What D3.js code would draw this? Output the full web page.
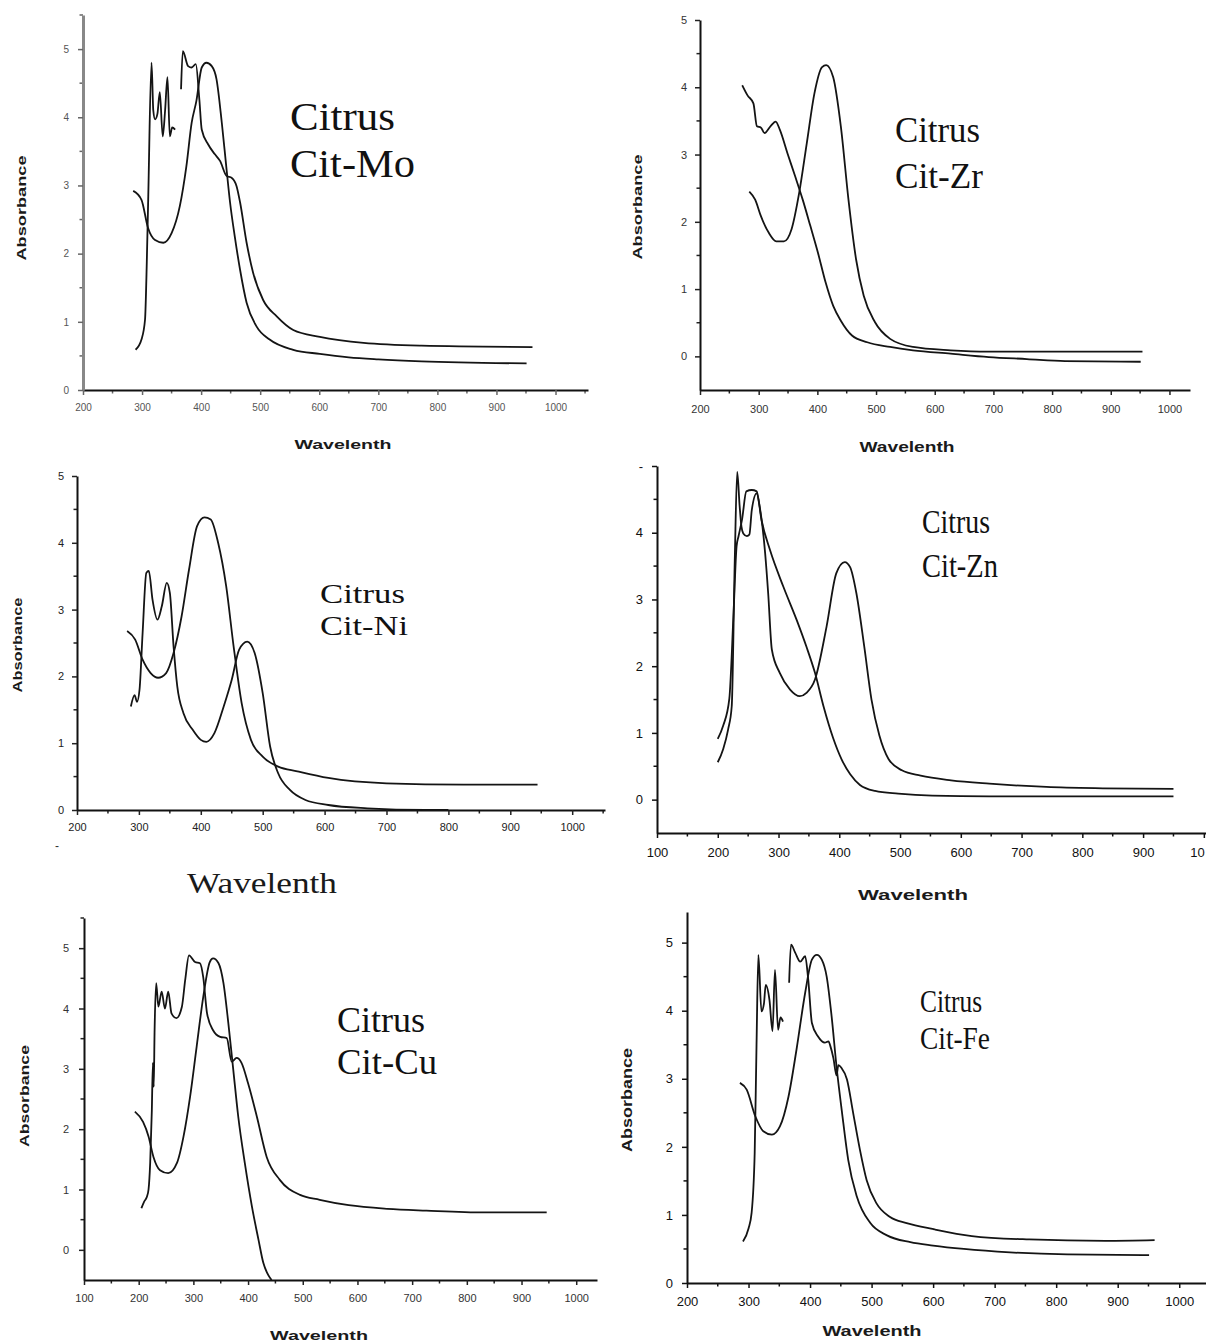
<!DOCTYPE html>
<html><head><meta charset="utf-8">
<script src="https://cdn.jsdelivr.net/npm/d3@7"></script>
<style>
html,body{margin:0;padding:0;background:#fff;}
svg{display:block;}
</style></head><body>
<svg id="chart" width="1206" height="1344"></svg>
<script>
// ---------------- DATA (wavelength nm, absorbance) ----------------
const moNoisy = [[289,0.59],[299,0.74],[305,1.03],[308,1.87],[310.5,2.84],[316,4.8],[319,4.1],[322,3.97],[326,4.05],[330,4.37],[335,3.72],[339,4.1],[343,4.59],[347,3.72],[351,3.85],[356,3.82],[361,null],[366,4.41],[369,4.97],[378,4.75],[384,4.73],[391,4.78],[397,4.26],[401,3.82],[412,3.6],[423,3.46],[432,3.36],[443,3.14],[452,3.11],[460,2.99],[466,2.75],[477,2.16],[488,1.72],[505,1.32],[528,1.08],[556,0.88],[601,0.78],[675,0.69],[773,0.65],[961,0.63]];
const moBroad = [[285,2.92],[299,2.79],[310,2.38],[322,2.2],[336,2.16],[350,2.3],[364,2.7],[375,3.28],[384,3.92],[392,4.24],[401,4.73],[409,4.8],[418,4.75],[426,4.56],[435,3.92],[443,3.24],[449,2.75],[457,2.25],[466,1.76],[477,1.28],[494,0.93],[516,0.74],[556,0.59],[601,0.53],[650,0.48],[700,0.45],[773,0.42],[951,0.39]];

const zrA = [[272,4.03],[281,3.88],[291,3.76],[297,3.42],[304,3.4],[310,3.32],[320,3.42],[329,3.49],[336,3.37],[349,3.02],[362,2.68],[375,2.33],[388,1.94],[401,1.54],[414,1.1],[427,0.75],[440,0.53],[459,0.31],[485,0.21],[524,0.14],[563,0.09],[627,0.04],[692,-0.01],[757,-0.04],[822,-0.07],[951,-0.08]];
const zrB = [[284,2.45],[294,2.33],[304,2.08],[317,1.84],[330,1.71],[343,1.71],[356,1.89],[369,2.43],[382,3.17],[395,3.91],[408,4.3],[415,4.33],[427,4.15],[440,3.42],[453,2.33],[466,1.44],[479,0.9],[498,0.51],[524,0.26],[563,0.14],[627,0.09],[692,0.07],[954,0.07]];

const niA = [[287,1.55],[293,1.72],[297,1.62],[301,1.8],[306,2.65],[312,3.55],[316,3.58],[322,3.15],[330,2.85],[337,3.05],[345,3.4],[350,3.25],[356,2.45],[362,1.85],[372,1.45],[387,1.2],[400,1.05],[409,1.02],[422,1.15],[437,1.55],[450,1.95],[462,2.4],[475,2.52],[487,2.35],[500,1.75],[512,0.95],[525,0.55],[544,0.3],[569,0.15],[606,0.075],[669,0.025],[762,0],[800,0]];
const niB = [[281,2.68],[294,2.55],[306,2.25],[319,2.05],[331,1.98],[344,2.05],[356,2.35],[369,2.9],[381,3.6],[394,4.25],[406,4.38],[416,4.35],[428,4.0],[441,3.35],[453,2.45],[466,1.6],[481,1.05],[500,0.8],[525,0.65],[556,0.58],[606,0.48],[700,0.4],[825,0.38],[944,0.38]];

const znA = [[200,0.56],[209,0.76],[217,1.05],[223,1.4],[228,3.59],[232,4.91],[236,4.4],[239,4.09],[242,3.99],[248,3.95],[252,3.97],[256,4.34],[264,4.59],[269,4.39],[278,3.69],[283,3.09],[289,2.25],[302,1.9],[319,1.65],[335,1.55],[346,1.6],[360,1.8],[379,2.59],[395,3.39],[409,3.56],[418,3.48],[428,3.1],[441,2.3],[453,1.5],[466,0.96],[481,0.61],[503,0.44],[534,0.36],[584,0.29],[647,0.24],[741,0.19],[834,0.17],[950,0.16]];
const znB = [[200,0.91],[209,1.11],[219,1.51],[226,2.8],[231,3.8],[234,3.94],[240,4.2],[247,4.62],[256,4.64],[264,4.62],[272,4.19],[286,3.74],[308,3.19],[330,2.69],[346,2.29],[360,1.9],[374,1.4],[390,0.92],[404,0.6],[418,0.38],[434,0.22],[459,0.13],[497,0.09],[553,0.06],[647,0.05],[950,0.05]];

const cuA = [[205,0.69],[210,0.8],[215,0.88],[218,1.0],[221,1.44],[224,2.3],[226,3.1],[227.5,2.7],[229,3.6],[232,4.42],[236,4.03],[242,4.28],[248,4.0],[254,4.28],[260,3.92],[269,3.84],[279,4.03],[285,4.47],[292,4.88],[303,4.77],[312,4.75],[318,4.52],[325,3.92],[336,3.64],[349,3.53],[361,3.51],[370,3.12],[379,3.18],[388,3.1],[400,2.76],[416,2.21],[434,1.54],[458,1.16],[495,0.91],[531,0.83],[584,0.74],[655,0.68],[726,0.65],[832,0.62],[946,0.62]];
const cuB = [[193,2.29],[208,2.12],[218,1.88],[227,1.54],[239,1.32],[254,1.27],[270,1.44],[282,1.88],[294,2.54],[306,3.37],[318,4.19],[330,4.77],[336,4.83],[346,4.75],[355,4.42],[364,3.75],[373,2.98],[382,2.21],[394,1.44],[407,0.72],[419,0.17],[428,-0.22],[437,-0.42],[443,-0.5]];

const feNoisy = [[291,0.61],[300,0.8],[305,1.03],[310,1.91],[313,3.5],[316,4.82],[321,3.99],[325,4.1],[328,4.38],[334,4.16],[339,3.7],[343,4.6],[348,3.72],[352,3.9],[356,3.84],[361,null],[366,4.41],[369,4.97],[376,4.85],[384,4.72],[392,4.8],[397,4.46],[403,3.82],[413,3.62],[424,3.53],[430,3.55],[433,3.48],[438,3.3],[443,3.05],[446,3.2],[451,3.16],[460,2.99],[470,2.5],[481,1.96],[492,1.51],[508,1.17],[530,0.97],[557,0.88],[601,0.79],[663,0.69],[756,0.64],[880,0.62],[960,0.63]];
const feBroad = [[286,2.94],[297,2.84],[311,2.45],[324,2.23],[338,2.18],[351,2.3],[365,2.74],[378,3.43],[392,4.26],[403,4.75],[411,4.82],[419,4.75],[427,4.5],[435,3.92],[443,3.18],[452,2.5],[462,1.81],[476,1.27],[498,0.88],[525,0.7],[563,0.6],[600,0.55],[650,0.5],[725,0.45],[818,0.42],[951,0.41]];

// tick values
const xTicks200 = [200,300,400,500,600,700,800,900,1000];
const xTicks100 = [100,200,300,400,500,600,700,800,900,1000];
const yTicks05 = [0,1,2,3,4,5];

// labels
const yTitle = "Absorbance";
const xTitle = "Wavelenth";
const panelNames = ["Cit-Mo","Cit-Zr","Cit-Ni","Cit-Zn","Cit-Cu","Cit-Fe"];
const groupName = "Citrus";

// ---------------- DRAWING ----------------
const svg = d3.select('#chart');

function midpoints(arr){
  const out = [];
  for (let i=0;i<arr.length-1;i++) out.push((arr[i]+arr[i+1])/2);
  const step = arr[1]-arr[0];
  out.unshift(arr[0]-step/2);
  out.push(arr[arr.length-1]+step/2);
  return out;
}

function drawPanel(c){
  const g = svg.append('g');
  const x = d3.scaleLinear().domain(c.xDomain).range([c.left, c.right]);
  const y = d3.scaleLinear().domain(c.yDomain).range([c.bottom, c.top]);

  const xm = midpoints(c.xTicks).filter(v => v>c.xDomain[0] && v<c.xDomain[1]);
  const ym = midpoints(c.yTicks).filter(v => v>c.yDomain[0] && v<=c.yDomain[1]+0.01);
  g.append('g').selectAll('line').data(xm).join('line')
    .attr('x1', d=>x(d)).attr('x2', d=>x(d))
    .attr('y1', c.bottom).attr('y2', c.bottom+3.5)
    .attr('stroke', c.tickColor).attr('stroke-width', 1.5);
  g.append('g').selectAll('line').data(ym).join('line')
    .attr('y1', d=>y(d)).attr('y2', d=>y(d))
    .attr('x1', c.left).attr('x2', c.left-3.5)
    .attr('stroke', c.tickColor).attr('stroke-width', 1.5);

  const xAxis = d3.axisBottom(x).tickValues(c.xTicks).tickSize(5).tickSizeOuter(0).tickPadding(c.xPad)
      .tickFormat(c.xFormat || d3.format('d'));
  const yAxis = d3.axisLeft(y).tickValues(c.yTicks).tickSize(5).tickSizeOuter(0).tickPadding(c.yPad)
      .tickFormat(c.yFormat || d3.format('d'));

  const gx = g.append('g').attr('transform', `translate(0,${c.bottom})`).call(xAxis);
  const gy = g.append('g').attr('transform', `translate(${c.left},0)`).call(yAxis);
  [gx, gy].forEach(a => {
    a.selectAll('text').attr('font-family', 'Liberation Sans, Arial, sans-serif')
      .attr('font-size', c.tickFont).attr('fill', c.tickTextColor);
    a.selectAll('.tick line').attr('stroke', c.tickColor).attr('stroke-width', 1.5);
  });
  gx.select('.domain').attr('stroke', '#111').attr('stroke-width', 2);
  gy.select('.domain').attr('stroke', c.yAxisColor).attr('stroke-width', c.yAxisWidth);
  if (c.edgeLabel) {
    gx.selectAll('.tick').filter(d => d === c.edgeLabel).select('text')
      .attr('text-anchor', 'start').attr('x', -14);
  }

  const line = d3.line().defined(d => d[1] !== null)
      .x(d => x(d[0])).y(d => y(d[1])).curve(d3.curveMonotoneX);
  c.series.forEach(s => {
    g.append('path').datum(s).attr('d', line)
      .attr('fill', 'none').attr('stroke', '#141414').attr('stroke-width', 1.8)
      .attr('stroke-linejoin', 'round');
  });

  if (c.yTitlePos){
    g.append('text').attr('transform', `translate(${c.yTitlePos[0]},${c.yTitlePos[1]}) rotate(-90)`)
      .attr('text-anchor', 'middle').attr('font-family', 'Liberation Sans, Arial, sans-serif')
      .attr('font-weight', 'bold').attr('font-size', c.yTitleSize).attr('fill', '#1a1a1a')
      .attr('textLength', c.yTitleLen).attr('lengthAdjust', 'spacingAndGlyphs')
      .text(yTitle);
  }
  if (c.xTitlePos){
    g.append('text').attr('x', c.xTitlePos[0]).attr('y', c.xTitlePos[1])
      .attr('text-anchor', 'middle')
      .attr('font-family', c.xTitleSerif ? 'Liberation Serif, Times New Roman, serif' : 'Liberation Sans, Arial, sans-serif')
      .attr('font-weight', c.xTitleSerif ? 'normal' : 'bold')
      .attr('font-size', c.xTitleSize).attr('fill', '#1a1a1a')
      .attr('textLength', c.xTitleLen).attr('lengthAdjust', 'spacingAndGlyphs')
      .text(xTitle);
  }
  [[groupName, c.ann1], [c.name, c.ann2]].forEach(([t, p]) => {
    g.append('text').attr('x', p[0]).attr('y', p[1])
      .attr('font-family', 'Liberation Serif, Times New Roman, serif')
      .attr('font-size', c.annSize).attr('fill', '#111')
      .attr('textLength', p[2]).attr('lengthAdjust', 'spacingAndGlyphs')
      .text(t);
  });
  return {x, y, g};
}

// Panel 1: Cit-Mo
drawPanel({name: panelNames[0], series:[moNoisy, moBroad],
  left:83, right:588, xDomain:[200,1055], bottom:390, top:15, yDomain:[0,5.5],
  xTicks:xTicks200, yTicks:yTicks05, xPad:9, yPad:9, tickFont:10, tickTextColor:'#555', tickColor:'#666',
  yAxisColor:'#888', yAxisWidth:3,
  yTitlePos:[26,208], yTitleSize:13, yTitleLen:105,
  xTitlePos:[343,449], xTitleSize:13, xTitleLen:97,
  annSize:40, ann1:[290,130,105], ann2:[290,177,125]});

// Panel 2: Cit-Zr
drawPanel({name: panelNames[1], series:[zrA, zrB],
  left:700, right:1190, xDomain:[200,1035], bottom:390, top:20, yDomain:[-0.5,5],
  xTicks:xTicks200, yTicks:yTicks05, xPad:10, yPad:8, tickFont:11, tickTextColor:'#333', tickColor:'#222',
  yAxisColor:'#111', yAxisWidth:2,
  yTitlePos:[642,207], yTitleSize:13, yTitleLen:105,
  xTitlePos:[907,452], xTitleSize:14, xTitleLen:95,
  annSize:36, ann1:[895,142,85], ann2:[895,188,88]});

// Panel 3: Cit-Ni
drawPanel({name: panelNames[2], series:[niA, niB],
  left:77, right:605, xDomain:[200,1053], bottom:810, top:476, yDomain:[0,5],
  xTicks:xTicks200, yTicks:yTicks05, xPad:8, yPad:8, tickFont:11, tickTextColor:'#222', tickColor:'#222',
  yAxisColor:'#111', yAxisWidth:2,
  yTitlePos:[22,645], yTitleSize:13, yTitleLen:95,
  xTitlePos:[262,893], xTitleSize:30, xTitleLen:150, xTitleSerif:true,
  annSize:28, ann1:[320,603,85], ann2:[320,635,88]});
svg.append('text').attr('x',55).attr('y',850).attr('font-family','Liberation Sans, Arial, sans-serif')
  .attr('font-size',12).attr('fill','#333').text('-');

// Panel 4: Cit-Zn (right edge of the picture cuts the last label to "10")
drawPanel({name: panelNames[3], series:[znA, znB],
  left:657, right:1216, xDomain:[100,1020], bottom:833, top:466, yDomain:[-0.5,5],
  xTicks:xTicks100, yTicks:yTicks05, xPad:10, yPad:9, tickFont:13, tickTextColor:'#111', tickColor:'#111',
  yAxisColor:'#111', yAxisWidth:2, yFormat: d => d === 5 ? '-' : d3.format('d')(d),
  xFormat: d => d === 1000 ? '10' : d3.format('d')(d), edgeLabel:1000,
  yTitlePos:null,
  xTitlePos:[913,900], xTitleSize:15, xTitleLen:110,
  annSize:34, ann1:[922,533,68], ann2:[922,577,76]});

// Panel 5: Cit-Cu
drawPanel({name: panelNames[4], series:[cuA, cuB],
  left:84, right:597, xDomain:[100,1038], bottom:1280, top:918, yDomain:[-0.5,5.5],
  xTicks:xTicks100, yTicks:yTicks05, xPad:9, yPad:10, tickFont:11, tickTextColor:'#333', tickColor:'#222',
  yAxisColor:'#111', yAxisWidth:2,
  yTitlePos:[29,1096], yTitleSize:13, yTitleLen:102,
  xTitlePos:[319,1340], xTitleSize:13, xTitleLen:98,
  annSize:36, ann1:[337,1032,88], ann2:[337,1074,100]});

// Panel 6: Cit-Fe
drawPanel({name: panelNames[5], series:[feNoisy, feBroad],
  left:687, right:1210, xDomain:[200,1050], bottom:1283, top:912, yDomain:[0,5.45],
  xTicks:xTicks200, yTicks:yTicks05, xPad:9, yPad:9, tickFont:13, tickTextColor:'#111', tickColor:'#111',
  yAxisColor:'#111', yAxisWidth:2,
  yTitlePos:[632,1100], yTitleSize:14, yTitleLen:104,
  xTitlePos:[872,1336], xTitleSize:14, xTitleLen:99,
  annSize:31, ann1:[920,1012,62], ann2:[920,1049,70]});
</script>
</body></html>
